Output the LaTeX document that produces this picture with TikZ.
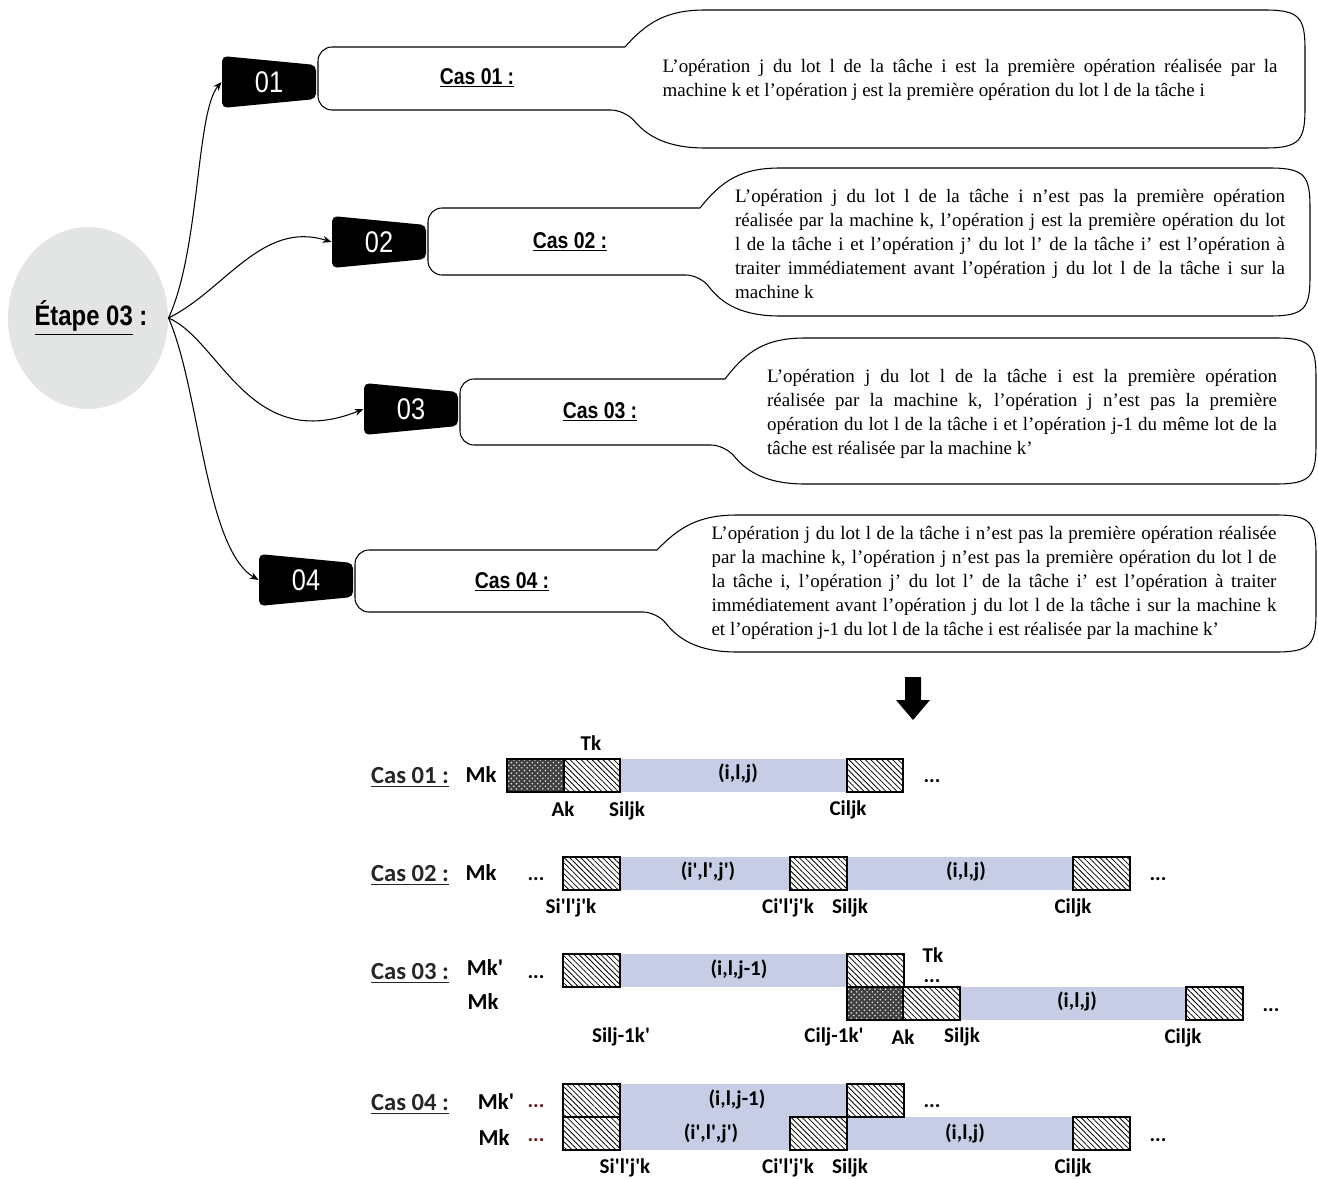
\documentclass[tikz,border=0pt]{standalone}
\usepackage{fontspec}
\setmainfont{Liberation Serif}
\newfontfamily\narrowsf[FakeStretch=0.85]{Liberation Sans}
\newfontfamily\ganttsf{Carlito}
\usetikzlibrary{arrows.meta, patterns, patterns.meta, shapes.geometric}
\definecolor{etapegray}{HTML}{E3E4E4}
\definecolor{barblue}{HTML}{C6CDE4}
\definecolor{dotred}{HTML}{6B1A1A}

\begin{document}
\begin{tikzpicture}[x=0.02cm, y=-0.02cm, line width=0.6pt,
    tagtext/.style={text=white, font=\narrowsf\fontsize{17}{19}\selectfont,
                    minimum width=1.88cm, minimum height=0.9cm, inner sep=0pt},
    caslabel/.style={font=\narrowsf\bfseries\fontsize{13}{15}\selectfont},
    desc/.style={align=justify, inner sep=0pt,
                 font=\fontsize{10.8}{13.6}\selectfont},
    link/.style={-{Stealth[length=5pt,width=4pt]}},
    gcas/.style={font=\ganttsf\bfseries\fontsize{14}{16}\selectfont, text=black!85},
    gmach/.style={font=\ganttsf\bfseries\fontsize{13}{15}\selectfont, inner sep=1pt},
    glabel/.style={font=\ganttsf\bfseries\fontsize{12}{14}\selectfont, inner sep=1pt},
    bar/.style={fill=barblue},
    hatch/.style={draw, pattern={Lines[angle=-45, distance=2.2pt, line width=0.45pt]}},
    dense/.style={draw, preaction={fill=black!75}, pattern=crosshatch dots,
                  pattern color=gray!25}]
  \useasboundingbox (0,0) rectangle (1318,1179);

  % etape
  \node[ellipse, fill=etapegray, minimum width=3.2cm, minimum height=3.64cm,
        inner sep=0pt] (etape) at (88,318) {};
  \node[font=\narrowsf\bfseries\fontsize{16}{18}\selectfont] (etapetxt) at (91,318)
        {\underline{Étape 03} :};

  % callouts
  \foreach \xl/\yt/\yb/\xj/\Yt/\Yb/\xr in {318/47/110/625/10/148/1305,
      428/208/275/700/168/316/1310, 460/379/445/725/338/484/1316,
      355/550/612/657/515/652/1316}{
    \draw (\xj,\yt) [rounded corners=8pt] -- (\xl,\yt) -- (\xl,\yb) -- (\xj,\yb)
      [sharp corners] .. controls (\xj+22,\Yb-12) and (\xj+42,\Yb) .. (\xj+80,\Yb)
      -- (\xr-40,\Yb) .. controls (\xr-5,\Yb) and (\xr,\Yb-8) .. (\xr,\Yb-40)
      -- (\xr,\Yt+40) .. controls (\xr,\Yt+8) and (\xr-5,\Yt) .. (\xr-40,\Yt)
      -- (\xj+80,\Yt) .. controls (\xj+42,\Yt) and (\xj+22,\Yt+12) .. (\xj,\yt);
  }
  \node[caslabel] (cas1) at (477,78) {\underline{Cas 01 :}};
  \node[caslabel] (cas2) at (570,242) {\underline{Cas 02 :}};
  \node[caslabel] (cas3) at (600,412) {\underline{Cas 03 :}};
  \node[caslabel] (cas4) at (512,582) {\underline{Cas 04 :}};

  \node[desc, text width=12.3cm] (d1) at (970,80)
    {L'opération j du lot l de la tâche i est la première opération réalisée par la\linebreak
     machine k et l'opération j est la première opération du lot l de la tâche i};
  \node[desc, text width=11cm] (d2) at (1010,244)
    {L'opération j du lot l de la tâche i n'est pas la première opération\linebreak
     réalisée par la machine k, l'opération j est la première opération du lot\linebreak
     l de la tâche i et l'opération j' du lot l' de la tâche i' est l'opération à\linebreak
     traiter immédiatement avant l'opération j du lot l de la tâche i sur la\linebreak
     machine k};
  \node[desc, text width=10.2cm] (d3) at (1022,414)
    {L'opération j du lot l de la tâche i est la première opération\linebreak
     réalisée par la machine k, l'opération j n'est pas la première\linebreak
     opération du lot l de la tâche i et l'opération j-1 du même lot de la\linebreak
     tâche est réalisée par la machine k'};
  \node[desc, text width=11.3cm] (d4) at (994,583)
    {L'opération j du lot l de la tâche i n'est pas la première opération réalisée\linebreak
     par la machine k, l'opération j n'est pas la première opération du lot l de\linebreak
     la tâche i, l'opération j' du lot l' de la tâche i' est l'opération à traiter\linebreak
     immédiatement avant l'opération j du lot l de la tâche i sur la machine k\linebreak
     et l'opération j-1 du lot l de la tâche i est réalisée par la machine k'};

  % tags
  \foreach \n/\x/\y in {01/269/82, 02/379/242, 03/411/409, 04/306/580}{
    \fill[rounded corners=3pt] (\x-47,\y-26) -- (\x+47,\y-17) -- (\x+47,\y+17)
      -- (\x-47,\y+26) -- cycle;
    \node[tagtext] (t\n) at (\x,\y) {\n};
  }

  \draw[link] (etape.east) .. controls (200,250) and (196,112) .. (t01.west);
  \draw[link] (etape.east) .. controls (225,290) and (262,220) .. (t02.west);
  \draw[link] (etape.east) .. controls (220,340) and (250,455) .. (t03.west);
  \draw[link] (etape.east) .. controls (200,390) and (205,548) .. (t04.west);

  % down arrow
  \fill (905,677) -- (921,677) -- (921,700) -- (930,700) -- (913,720)
    -- (896,700) -- (905,700) -- cycle;

  % gantt cas 01
  \node[gcas] (g1) at (410,777) {\underline{Cas 01 :}};
  \node[gmach] (g1m) at (481,774) {Mk};
  \fill[bar] (620,759) rectangle (847,792);
  \draw[dense] (507,759) rectangle (564,792);
  \foreach \a in {564,847} \draw[hatch] (\a,759) rectangle ++(56,33);
  \node[glabel] (g1b) at (738,773) {(i,l,j)};
  \node[glabel] (g1t) at (591,743) {Tk};
  \node[glabel] (g1d) at (932,781) {...};
  \node[glabel] (g1a) at (563,809) {Ak};
  \node[glabel] (g1s) at (627,811) {Siljk};
  \node[glabel] (g1c) at (848,810) {Ciljk};

  % gantt cas 02
  \node[gcas] (g2) at (410,875) {\underline{Cas 02 :}};
  \node[gmach] (g2m) at (481,872) {Mk};
  \node[glabel] (g2d) at (536,879) {...};
  \fill[bar] (620,857) rectangle (790,890);
  \fill[bar] (847,857) rectangle (1073,890);
  \foreach \a in {563,790,1073} \draw[hatch] (\a,857) rectangle ++(57,33);
  \node[glabel] (g2b) at (708,871) {(i',l',j')};
  \node[glabel] (g2c) at (966,871) {(i,l,j)};
  \node[glabel] (g2e) at (1158,879) {...};
  \node[glabel] (g2s1) at (571,908) {Si'l'j'k};
  \node[glabel] (g2c1) at (788,908) {Ci'l'j'k};
  \node[glabel] (g2s) at (850,908) {Siljk};
  \node[glabel] (g2c2) at (1073,908) {Ciljk};

  % gantt cas 03
  \node[gcas] (g3) at (410,973) {\underline{Cas 03 :}};
  \node[gmach] (g3m1) at (485,967) {Mk'};
  \node[gmach] (g3m) at (483,1001) {Mk};
  \node[glabel] (g3d) at (536,977) {...};
  \fill[bar] (620,954) rectangle (847,987);
  \fill[bar] (960,987) rectangle (1186,1020);
  \foreach \a/\y in {563/954, 847/954, 903/987, 1186/987}
    \draw[hatch] (\a,\y) rectangle ++(57,33);
  \draw[dense] (847,987) rectangle (903,1020);
  \node[glabel] (g3b) at (739,969) {(i,l,j-1)};
  \node[glabel] (g3c) at (1077,1001) {(i,l,j)};
  \node[glabel, inner sep=0pt] (g3t) at (933,955) {Tk};
  \node[glabel, inner sep=0pt] (g3e) at (932,981) {...};
  \node[glabel] (g3f) at (1271,1010) {...};
  \node[glabel] (g3s1) at (621,1037) {Silj-1k'};
  \node[glabel] (g3c1) at (834,1037) {Cilj-1k'};
  \node[glabel] (g3a) at (903,1037) {Ak};
  \node[glabel] (g3s) at (962,1037) {Siljk};
  \node[glabel] (g3c2) at (1183,1038) {Ciljk};

  % gantt cas 04
  \node[gcas] (g4) at (410,1104) {\underline{Cas 04 :}};
  \node[gmach] (g4m1) at (496,1101) {Mk'};
  \node[gmach] (g4m) at (494,1137) {Mk};
  \node[glabel, text=dotred] (g4d1) at (536,1106) {...};
  \node[glabel, text=dotred] (g4d2) at (536,1140) {...};
  \fill[bar] (620,1084) rectangle (847,1117);
  \fill[bar] (620,1117) rectangle (790,1150);
  \fill[bar] (847,1117) rectangle (1073,1150);
  \foreach \a/\y in {563/1084, 847/1084, 563/1117, 790/1117, 1073/1117}
    \draw[hatch] (\a,\y) rectangle ++(57,33);
  \node[glabel] (g4b) at (737,1099) {(i,l,j-1)};
  \node[glabel] (g4c) at (711,1133) {(i',l',j')};
  \node[glabel] (g4e) at (965,1133) {(i,l,j)};
  \node[glabel] (g4f) at (932,1106) {...};
  \node[glabel] (g4g) at (1158,1140) {...};
  \node[glabel] (g4s1) at (625,1168) {Si'l'j'k};
  \node[glabel] (g4c1) at (788,1168) {Ci'l'j'k};
  \node[glabel] (g4s) at (850,1168) {Siljk};
  \node[glabel] (g4c2) at (1073,1168) {Ciljk};
\end{tikzpicture}
\end{document}
